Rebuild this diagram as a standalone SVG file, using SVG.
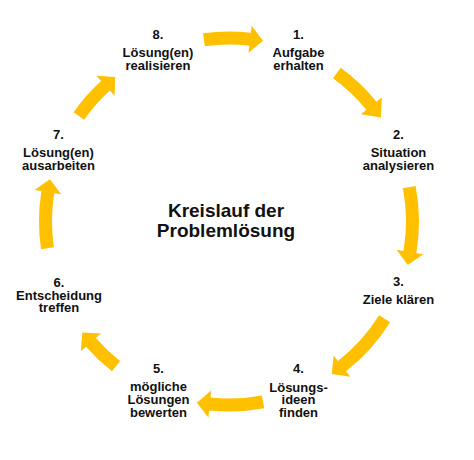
<svg xmlns="http://www.w3.org/2000/svg" width="474" height="460" viewBox="0 0 474 460">
<style>
.arr{fill:#FFC000;stroke:none}
.t{font-family:"Liberation Sans",Arial,sans-serif;font-weight:bold;font-size:13px;fill:#111;text-anchor:middle}
.title{font-family:"Liberation Sans",Arial,sans-serif;font-weight:bold;font-size:19px;fill:#111;text-anchor:middle}
</style>
<rect width="474" height="460" fill="#fff"/>
<g id="connectors">
<path class="arr" d="M203.08,33.28 A190,190 0 0,1 250.84,32.76 L251.64,25.81 L263.00,40.71 L248.54,52.63 L249.34,45.67 A177,177 0 0,0 204.86,46.15 Z"/>
<path class="arr" d="M340.68,67.79 A190,190 0 0,1 376.45,101.67 L381.88,97.26 L380.87,117.41 L360.93,114.28 L366.36,109.87 A177,177 0 0,0 333.04,78.30 Z"/>
<path class="arr" d="M415.64,185.90 A190,190 0 0,1 416.34,253.19 L423.24,254.35 L407.76,264.92 L396.62,249.85 L403.52,251.02 A177,177 0 0,0 402.87,188.33 Z"/>
<path class="arr" d="M390.13,322.18 A190,190 0 0,1 345.98,371.22 L350.29,376.74 L331.73,374.10 L333.66,355.46 L337.97,360.98 A177,177 0 0,0 379.10,315.30 Z"/>
<path class="arr" d="M264.28,408.20 A190,190 0 0,1 209.14,410.46 L208.41,417.42 L196.89,402.63 L211.23,390.57 L210.50,397.53 A177,177 0 0,0 261.86,395.42 Z"/>
<path class="arr" d="M112.02,371.22 A190,190 0 0,1 86.04,346.65 L80.78,351.26 L82.37,332.59 L101.09,333.48 L95.82,338.09 A177,177 0 0,0 120.03,360.98 Z"/>
<path class="arr" d="M41.04,249.26 A190,190 0 0,1 41.44,191.12 L34.53,190.00 L49.94,179.33 L61.19,194.32 L54.28,193.20 A177,177 0 0,0 53.90,247.36 Z"/>
<path class="arr" d="M73.55,112.25 A190,190 0 0,1 101.13,80.97 L96.42,75.79 L115.12,77.03 L114.59,95.76 L109.88,90.58 A177,177 0 0,0 84.19,119.72 Z"/>
</g>
<g id="title">
<text class="title" x="226" y="216.5">Kreislauf der<tspan x="226" y="237">Problemlösung</tspan></text>
</g>
<g id="node1">
<text class="t" x="298.5" y="38.5">1.<tspan x="298.5" y="57.3">Aufgabe</tspan><tspan x="298.5" y="70.3">erhalten</tspan></text>
</g>
<g id="node2">
<text class="t" x="398.5" y="138.5">2.<tspan x="398.5" y="156.7">Situation</tspan><tspan x="398.5" y="170">analysieren</tspan></text>
</g>
<g id="node3">
<text class="t" x="398.5" y="286">3.<tspan x="398.5" y="304.3">Ziele klären</tspan></text>
</g>
<g id="node4">
<text class="t" x="298.5" y="372.7">4.<tspan x="298.5" y="391.5">Lösungs-</tspan><tspan x="298.5" y="404.3">ideen</tspan><tspan x="298.5" y="417.3">finden</tspan></text>
</g>
<g id="node5">
<text class="t" x="158.5" y="372.7">5.<tspan x="158.5" y="390.7">mögliche</tspan><tspan x="158.5" y="404">Lösungen</tspan><tspan x="158.5" y="417">bewerten</tspan></text>
</g>
<g id="node6">
<text class="t" x="59" y="287">6.<tspan x="59" y="300">Entscheidung</tspan><tspan x="59" y="311.7">treffen</tspan></text>
</g>
<g id="node7">
<text class="t" x="58.5" y="138.5">7.<tspan x="58.5" y="156.7">Lösung(en)</tspan><tspan x="58.5" y="170">ausarbeiten</tspan></text>
</g>
<g id="node8">
<text class="t" x="158" y="38.5">8.<tspan x="158" y="57.3">Lösung(en)</tspan><tspan x="158" y="70.3">realisieren</tspan></text>
</g>
</svg>
